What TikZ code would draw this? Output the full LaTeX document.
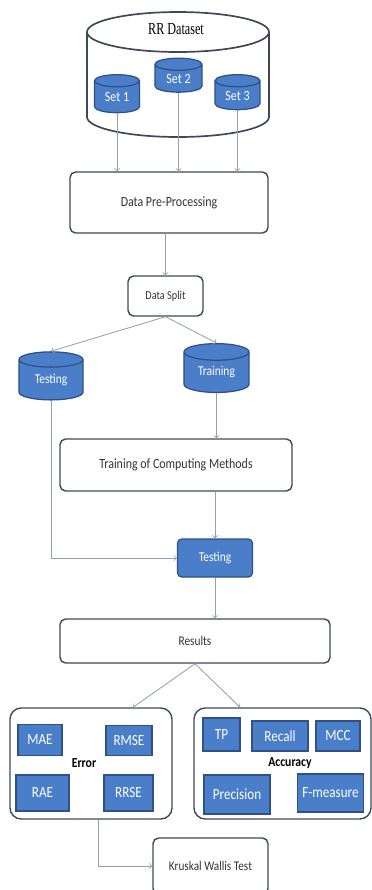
\documentclass[tikz,border=0pt]{standalone}
\usepackage{fontspec}
\setmainfont{Carlito}[FakeStretch=0.85]
\newfontfamily\rrfont{Liberation Serif}[FakeStretch=0.72]
\usetikzlibrary{shapes.geometric, arrows, positioning, calc}
\definecolor{boxblue}{RGB}{74,126,200}
\definecolor{edgeblue}{RGB}{46,82,135}
\definecolor{darkgray}{RGB}{64,72,86}
\definecolor{arrowgray}{RGB}{150,160,172}

\begin{document}
\begin{tikzpicture}[x=0.025cm, y=-0.025cm,
    bigstore/.style={draw=darkgray, line width=1.2pt},
    store/.style={cylinder, shape border rotate=90, draw=edgeblue, fill=boxblue, line width=0.9pt, text=white, aspect=0.5, inner sep=0pt, font=\fontsize{10}{12}\selectfont},
    process/.style={rectangle, rounded corners=4pt, draw=darkgray, fill=white, line width=1pt, text=black!80, font=\fontsize{10}{12}\selectfont},
    metric/.style={rectangle, draw=edgeblue, fill=boxblue, line width=0.9pt, text=white, font=\fontsize{11}{13}\selectfont},
    group/.style={rectangle, rounded corners=8pt, draw=darkgray, line width=1pt},
    arrow/.style={->, arrowgray, line width=0.6pt}
]
    \useasboundingbox (0,0) rectangle (372,890);
    \clip (0,0) rectangle (372,890);

    % Dataset
    \draw[bigstore] (87,32) -- (87,117) arc[start angle=180, end angle=0, x radius=91, y radius=20] -- (269,32);
    \draw[bigstore] (178,32) ellipse[x radius=91, y radius=20];
    \node[font=\rrfont\fontsize{12}{14}\selectfont] (rrname) at (176,29) {RR Dataset};
    \node[store, minimum width=1.125cm, minimum height=0.95cm] (set1) at (117,97) {Set 1};
    \node[store, minimum width=1.175cm, minimum height=0.85cm] (set2) at (178.5,78.5) {Set 2};
    \node[store, minimum width=1.125cm, minimum height=0.875cm] (set3) at (237.5,95.5) {Set 3};

    % Pre-processing and split
    \node[process, minimum width=4.95cm, minimum height=1.525cm] (prep) at (169,202.5) {Data Pre-Processing};
    \node[process, minimum width=1.875cm, minimum height=1cm, font=\fontsize{8.6}{10}\selectfont] (split) at (165.5,296) {Data Split};
    \node[store, minimum width=1.6cm, minimum height=1.2cm, aspect=0.47, font=\fontsize{9.6}{11}\selectfont] (testdb) at (51,380) {Testing};
    \node[store, minimum width=1.625cm, minimum height=1.22cm, aspect=0.45, font=\fontsize{9.6}{11}\selectfont] (traindb) at (216.5,372.5) {Training};

    % Training and testing
    \node[process, minimum width=5.8cm, minimum height=1.3cm] (methods) at (176,465) {Training of Computing Methods};
    \node[metric, rounded corners=3pt, minimum width=1.875cm, minimum height=0.95cm, font=\fontsize{9.6}{11}\selectfont] (testing) at (215,558) {Testing};
    \node[process, minimum width=6.75cm, minimum height=1.1cm, font=\fontsize{9.5}{11}\selectfont] (results) at (195,641) {Results};

    % Error measures
    \node[group, minimum width=4.05cm, minimum height=2.775cm] (error) at (91,763.5) {};
    \node[font=\bfseries\fontsize{9.8}{11}\selectfont] (errname) at (84,763) {Error};
    \node[metric, minimum width=1.1cm, minimum height=0.775cm] (mae) at (40,740) {MAE};
    \node[metric, minimum width=1.15cm, minimum height=0.75cm] (rmse) at (129,740.5) {RMSE};
    \node[metric, minimum width=1.325cm, minimum height=0.9cm] (rae) at (42.5,793) {RAE};
    \node[metric, minimum width=1.225cm, minimum height=0.9cm] (rrse) at (128.5,793) {RRSE};

    % Accuracy measures
    \node[group, minimum width=4.425cm, minimum height=2.775cm] (accuracy) at (282.5,763.5) {};
    \node[font=\bfseries\fontsize{9.8}{11}\selectfont] (accname) at (290,763) {Accuracy};
    \node[metric, minimum width=0.925cm, minimum height=0.825cm] (tp) at (221.5,734.5) {TP};
    \node[metric, minimum width=1.4cm, minimum height=0.75cm] (recall) at (280,736) {Recall};
    \node[metric, minimum width=1.1cm, minimum height=0.75cm] (mcc) at (338,736) {MCC};
    \node[metric, minimum width=1.65cm, minimum height=0.975cm] (precision) at (237,794.5) {Precision};
    \node[metric, minimum width=1.625cm, minimum height=0.95cm] (fmeasure) at (330.5,793) {F-measure};

    % Test
    \node[process, minimum width=2.875cm, minimum height=1.4cm, font=\fontsize{9.4}{11}\selectfont] (kruskal) at (210.5,866) {Kruskal Wallis Test};

    % Arrows
    \draw[arrow] (set1.south) -- (set1.south |- prep.north);
    \draw[arrow] (set2.south) -- (set2.south |- prep.north);
    \draw[arrow] (set3.south) -- (set3.south |- prep.north);
    \draw[arrow] (split.north |- prep.south) -- (split.north);
    \draw[arrow] (split.south) -- (testdb.north);
    \draw[arrow] (split.south) -- (traindb.north);
    \draw[arrow] (traindb.south) -- (traindb.south |- methods.north);
    \draw[arrow] (testing.north |- methods.south) -- (testing.north);
    \draw[arrow] (testdb.south) |- (testing.west);
    \draw[arrow] (testing.south) -- (testing.south |- results.north);
    \draw[arrow] (results.south) -- ([xshift=1.05cm]error.north);
    \draw[arrow] (results.south) -- ([xshift=-1.06cm]accuracy.north);
    \draw[arrow] ([xshift=0.18cm]error.south) |- (kruskal.west);
\end{tikzpicture}
\end{document}
